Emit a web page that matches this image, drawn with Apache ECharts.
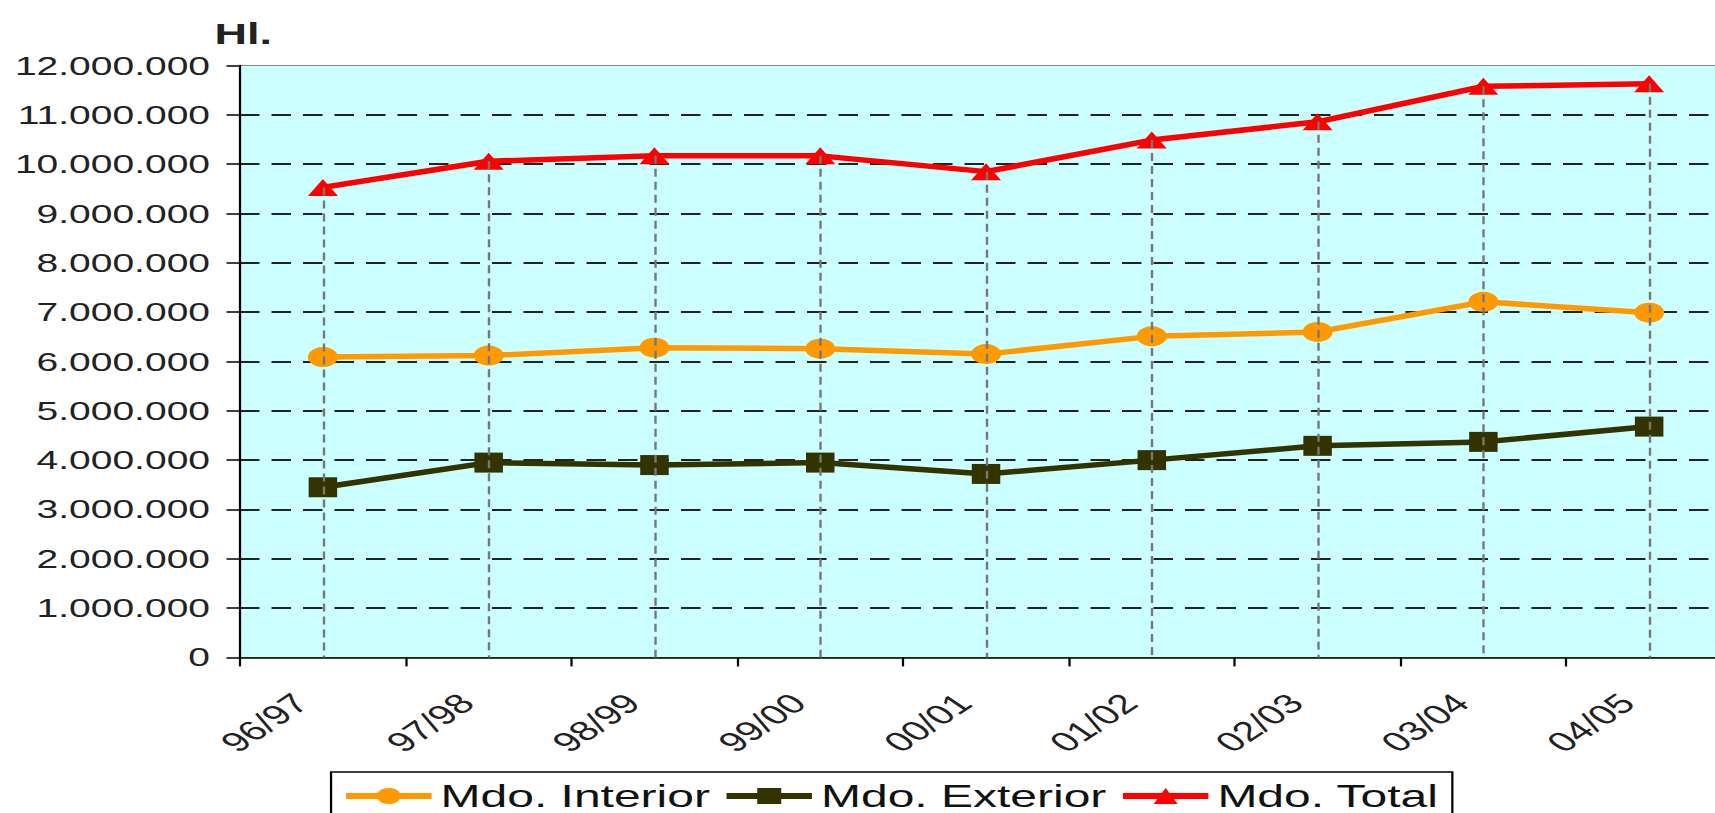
<!DOCTYPE html>
<html><head><meta charset="utf-8">
<script src="https://cdn.jsdelivr.net/npm/echarts@6/dist/echarts.min.js"></script>
<style>
html,body{margin:0;padding:0;background:#fff;overflow:hidden;width:1715px;height:813px}
#wrap{width:1715px;height:813px;overflow:hidden;position:relative}
#chart{width:1160px;height:813px;transform:scaleX(1.5);transform-origin:0 0;position:absolute;left:0;top:0}
</style>
</head><body><div id="wrap"><div id="chart"></div></div>
<script>
const categories = ['96/97','97/98','98/99','99/00','00/01','01/02','02/03','03/04','04/05'];
const mdoInterior = [6090000, 6120000, 6280000, 6260000, 6150000, 6510000, 6600000, 7210000, 6990000];
const mdoExterior = [3450000, 3950000, 3900000, 3950000, 3720000, 4000000, 4290000, 4370000, 4680000];
const mdoTotal    = [9530000, 10060000, 10170000, 10170000, 9850000, 10490000, 10860000, 11580000, 11630000];
const yMin = 0, yMax = 12000000, yInterval = 1000000;
const unitLabel = 'Hl.';

const FONT = "'Liberation Sans', Arial, sans-serif";
const fmt = v => String(v).replace(/\B(?=(\d{3})+(?!\d))/g, '.');

const chart = echarts.init(document.getElementById('chart'), null, {renderer: 'svg'});
chart.setOption({
  animation: false,
  title: {text: unitLabel, left: 138, top: 13, textStyle: {fontFamily: FONT, fontSize: 30, fontWeight: 'bold', color: '#222'}},
  grid: {left: 160, right: 5.3, top: 65.6, bottom: 155.6, show: true, backgroundColor: '#CCFFFF', borderColor: '#888', borderWidth: 1},
  legend: {
    data: ['Mdo. Interior', 'Mdo. Exterior', 'Mdo. Total'],
    left: 220.7, top: 772,
    padding: [8, 9, 8, 7],
    itemWidth: 57, itemHeight: 20, itemGap: 8,
    borderColor: '#000', borderWidth: 1.5,
    lineStyle: {width: 6},
    textStyle: {fontFamily: FONT, fontSize: 32, color: '#111', padding: [0, 0, 0, 1]}
  },
  xAxis: {
    type: 'category', data: categories, boundaryGap: true,
    axisLine: {lineStyle: {color: '#000', width: 1.5}},
    axisTick: {show: true, length: 9, lineStyle: {color: '#000', width: 1.5}},
    axisLabel: {rotate: 45, margin: 26, padding: [0, 21, 0, 0], fontFamily: FONT, fontSize: 27.5, color: '#222'},
    splitLine: {show: false}
  },
  yAxis: {
    type: 'value', min: yMin, max: yMax, interval: yInterval,
    axisLine: {show: true, lineStyle: {color: '#000', width: 1.5}},
    axisTick: {show: true, length: 9, lineStyle: {color: '#000', width: 1.5}},
    axisLabel: {margin: 20, fontFamily: FONT, fontSize: 26, color: '#222', formatter: fmt},
    splitLine: {show: true, showMaxLine: false, showMinLine: false, lineStyle: {color: '#222', type: [13, 8], width: 1.8}}
  },
  series: [
    {
      name: '_drop', type: 'line', data: mdoTotal, symbol: 'none', silent: true, z: 1,
      lineStyle: {opacity: 0}, tooltip: {show: false},
      markLine: {
        silent: true, symbol: ['none', 'none'], label: {show: false},
        lineStyle: {color: '#777', type: [8, 5], width: 1.6},
        data: categories.map((c, i) => [{coord: [c, mdoTotal[i]]}, {coord: [c, 0]}])
      }
    },
    {
      name: 'Mdo. Interior', type: 'line', data: mdoInterior, z: 3,
      symbol: 'circle', symbolSize: 20,
      lineStyle: {color: '#FF9900', width: 5.5}, itemStyle: {color: '#FF9900'}
    },
    {
      name: 'Mdo. Exterior', type: 'line', data: mdoExterior, z: 3,
      symbol: 'rect', symbolSize: [19, 20],
      lineStyle: {color: '#333300', width: 5.5}, itemStyle: {color: '#333300'}
    },
    {
      name: 'Mdo. Total', type: 'line', data: mdoTotal, z: 3,
      symbol: 'triangle', symbolSize: [20, 17],
      lineStyle: {color: '#FF0000', width: 5.5}, itemStyle: {color: '#FF0000'}
    }
  ]
});
</script>
</body></html>
